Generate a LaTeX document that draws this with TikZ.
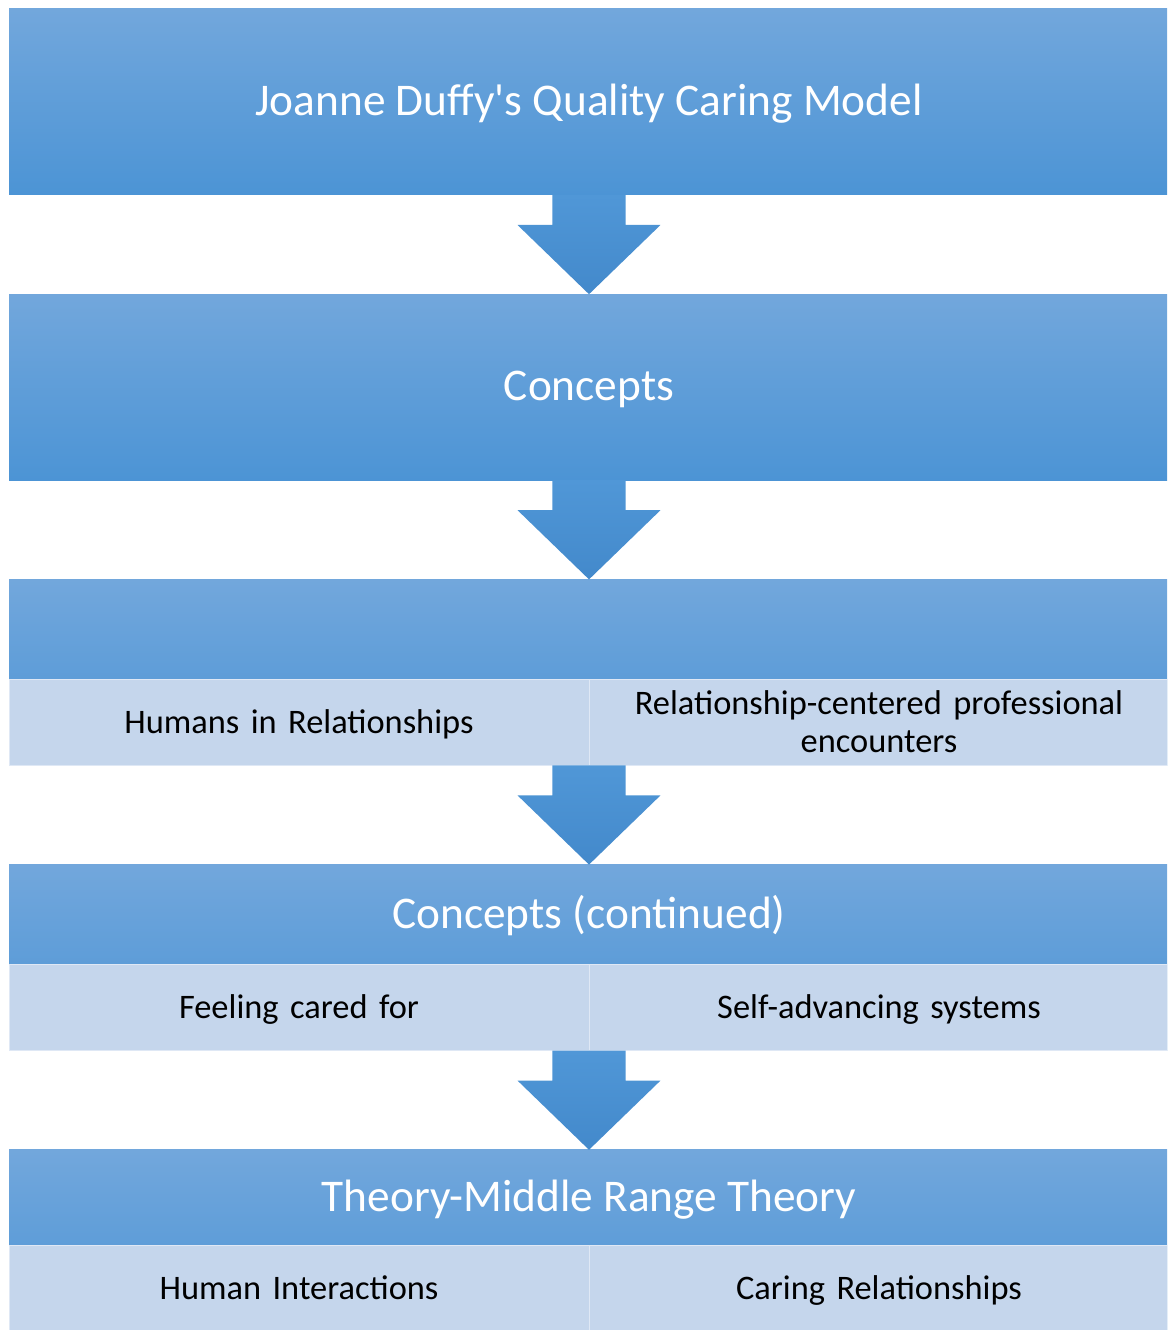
\documentclass[tikz,border=0pt]{standalone}
\usepackage{fontspec}
\setmainfont{Carlito}
\usetikzlibrary{positioning,calc}

\definecolor{stagetop}{RGB}{114,167,220}
\definecolor{stagebot}{RGB}{76,148,213}
\definecolor{flowtop}{RGB}{80,151,215}
\definecolor{flowbot}{RGB}{67,137,203}
\definecolor{cellfill}{RGB}{197,214,236}

\newcommand\titlesize{\fontsize{34}{40}\selectfont}
\newcommand\cellsize{\fontsize{25.8}{28.5}\selectfont}
% struts that put the capitals in the middle of a box
\newcommand\headstrut{\rule[-4pt]{0pt}{30pt}}
\newcommand\cellstrut{\rule[-6pt]{0pt}{28pt}}

\begin{document}
\begin{tikzpicture}[node distance=74.4pt,
  every node/.style={inner sep=0pt,outer sep=0pt},
  stage/.style={rectangle,minimum width=870pt,minimum height=139.5pt,
    top color=stagetop,bottom color=stagebot,text=white,font=\titlesize,
    execute at begin node=\headstrut},
  head/.style={rectangle,minimum width=870pt,minimum height=75pt,
    text=white,font=\titlesize,execute at begin node=\headstrut},
  cell/.style={rectangle,fill=cellfill,draw=white!45!cellfill,line width=0.6pt,
    minimum width=435pt,minimum height=64.5pt,text width=420pt,align=center,
    font=\cellsize,execute at begin node=\cellstrut,execute at end node=\cellstrut},
  flow/.style={top color=flowtop,bottom color=flowbot,to path={
    ($(\tikztostart)+(-27.4pt,0)$) -- ($(\tikztostart)+(27.4pt,0)$)
    -- ($(\tikztostart)+(27.4pt,-22.5pt)$) -- ($(\tikztostart)+(53.6pt,-22.5pt)$)
    -- (\tikztotarget) -- ($(\tikztostart)+(-53.6pt,-22.5pt)$)
    -- ($(\tikztostart)+(-27.4pt,-22.5pt)$) -- cycle}}]
 \useasboundingbox (0,0) rectangle (875.25pt,-997.5pt);
 \clip (0,0) rectangle (875.25pt,-997.5pt);

 % the five stages, top to bottom
 \node[stage,anchor=north] (s1) at (441.75pt,-6.75pt) {Joanne Duffy\textquotesingle s Quality Caring Model};
 \node[stage] (s2) [below=of s1] {Concepts};
 \node[stage,execute at begin node={}] (s3) [below=of s2] {};
 \node[stage,execute at begin node={}] (s4) [below=of s3] {};
 \node[stage,execute at begin node={}] (s5) [below=of s4] {};

 \node[head,anchor=north] (h4) at (s4.north) {Concepts (continued)};
 \node[head,anchor=north,minimum height=72pt] (h5) at (s5.north) {Theory-Middle Range Theory};

 % two cells under each heading
 \node[cell,anchor=south west] (c3a) at (s3.south west) {Humans in Relationships};
 \node[cell,anchor=south east] (c3b) at (s3.south east) {Relationship-centered professional\\encounters};
 \node[cell,anchor=south west] (c4a) at (s4.south west) {Feeling cared for};
 \node[cell,anchor=south east] (c4b) at (s4.south east) {Self-advancing systems};
 \node[cell,anchor=north west] (c5a) at (h5.south west) {Human Interactions};
 \node[cell,anchor=north east] (c5b) at (h5.south east) {Caring Relationships};

 % block arrows between the stages
 \path[flow] (s1.south) to (s2.north);
 \path[flow] (s2.south) to (s3.north);
 \path[flow] (c3a.south east) to (s4.north);
 \path[flow] (c4a.south east) to (s5.north);
\end{tikzpicture}
\end{document}
